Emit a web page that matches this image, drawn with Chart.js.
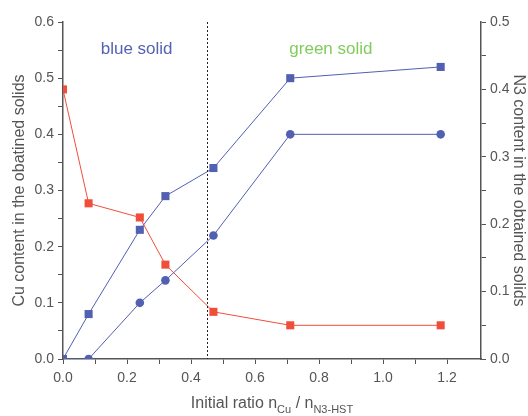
<!DOCTYPE html>
<html>
<head>
<meta charset="utf-8">
<script src="https://cdn.jsdelivr.net/npm/chart.js@4/dist/chart.umd.min.js"></script>
<style>
  html, body { margin: 0; padding: 0; background: #fff; }
  #wrap { width: 528px; height: 416px; }
</style>
</head>
<body>
<div id="wrap"><canvas id="grafico" width="528" height="416"></canvas></div>
<script>
// ratio n_Cu / n_N3-HST
const razoes = [0, 0.08, 0.24, 0.32, 0.47, 0.71, 1.18];
const cuQuadrado = [0, 0.08, 0.23, 0.29, 0.34, 0.50, 0.52];
const cuCirculo = [0, 0, 0.10, 0.14, 0.22, 0.40, 0.40];
const n3Conteudo = [0.40, 0.231, 0.21, 0.14, 0.07, 0.05, 0.05];

const xTicks = [0, 0.1, 0.2, 0.3, 0.4, 0.5, 0.6, 0.7, 0.8, 0.9, 1.0, 1.1, 1.2];
const yTicksCu = [0, 0.05, 0.1, 0.15, 0.2, 0.25, 0.3, 0.35, 0.4, 0.45, 0.5, 0.55, 0.6];
const yTicksN3 = [0, 0.05, 0.1, 0.15, 0.2, 0.25, 0.3, 0.35, 0.4, 0.45, 0.5];
const limiteSolido = 0.45;
const rotulos = [
  { texto: 'blue solid', x: 0.23, y: 0.552, cor: '#5563b3' },
  { texto: 'green solid', x: 0.837, y: 0.552, cor: '#82cc5e' }
];

const AZUL = '#5160b0';
const VERMELHO = '#f04e3b';
const CINZA = '#555555';
const FONTE = "'Liberation Sans', Arial, Helvetica, sans-serif";

const pares = (ys) => razoes.map((x, i) => ({ x, y: ys[i] }));
const soMaiores = (v) => Math.abs(Math.round(v * 10) - v * 10) < 1e-6;

const extras = {
  id: 'extras',
  afterDatasetsDraw(chart) {
    const { ctx, chartArea, scales } = chart;
    ctx.save();
    // linha pontilhada
    const xp = scales.x.getPixelForValue(limiteSolido);
    ctx.strokeStyle = '#222';
    ctx.lineWidth = 1;
    ctx.setLineDash([2, 2]);
    ctx.beginPath();
    ctx.moveTo(Math.round(xp) + 0.5, chartArea.top);
    ctx.lineTo(Math.round(xp) + 0.5, chartArea.bottom);
    ctx.stroke();
    ctx.setLineDash([]);

    ctx.font = '17px ' + FONTE;
    ctx.textAlign = 'center';
    ctx.textBaseline = 'middle';
    rotulos.forEach(r => {
      ctx.fillStyle = r.cor;
      ctx.fillText(r.texto, scales.x.getPixelForValue(r.x), scales.y.getPixelForValue(r.y));
    });

    // titulo do eixo x com subscritos
    const partes = [
      { t: 'Initial ratio n', f: 16, dy: 0 },
      { t: 'Cu', f: 11, dy: 5 },
      { t: ' / n', f: 16, dy: 0 },
      { t: 'N3-HST', f: 11, dy: 5 }
    ];
    ctx.textAlign = 'left';
    ctx.textBaseline = 'alphabetic';
    let total = 0;
    partes.forEach(p => { ctx.font = p.f + 'px ' + FONTE; total += ctx.measureText(p.t).width; });
    let xc = (chartArea.left + chartArea.right) / 2 - total / 2;
    ctx.fillStyle = CINZA;
    partes.forEach(p => {
      ctx.font = p.f + 'px ' + FONTE;
      ctx.fillText(p.t, xc, 408 + p.dy);
      xc += ctx.measureText(p.t).width;
    });
    ctx.restore();
  }
};

const eixoY = (ticks, titulo, pos, largura, padTitulo) => ({
  type: 'linear',
  position: pos,
  min: 0,
  max: ticks[ticks.length - 1],
  afterBuildTicks: (s) => { s.ticks = ticks.map(v => ({ value: v })); },
  afterFit: (s) => { s.width = largura; },
  border: { color: CINZA, width: 1.5 },
  grid: { drawOnChartArea: false, color: CINZA, tickLength: 5, tickWidth: 1 },
  ticks: {
    color: CINZA,
    font: { family: FONTE, size: 14 },
    padding: 4,
    callback: (v) => soMaiores(v) ? v.toFixed(1) : ''
  },
  title: {
    display: true,
    text: titulo,
    color: CINZA,
    font: { family: FONTE, size: 16 },
    padding: padTitulo
  }
});

new Chart(document.getElementById('grafico'), {
  type: 'scatter',
  data: {
    datasets: [
      {
        label: 'Cu (quadrado)',
        data: pares(cuQuadrado),
        yAxisID: 'y',
        showLine: true,
        borderColor: AZUL,
        borderWidth: 1,
        backgroundColor: AZUL,
        pointStyle: 'rect',
        pointRadius: 5.7,
        pointBorderWidth: 0
      },
      {
        label: 'Cu (circulo)',
        data: pares(cuCirculo),
        yAxisID: 'y',
        showLine: true,
        borderColor: AZUL,
        borderWidth: 1,
        backgroundColor: AZUL,
        pointStyle: 'circle',
        pointRadius: 4.3,
        pointBorderWidth: 0
      },
      {
        label: 'N3',
        data: pares(n3Conteudo),
        yAxisID: 'y2',
        showLine: true,
        borderColor: VERMELHO,
        borderWidth: 1,
        backgroundColor: VERMELHO,
        pointStyle: 'rect',
        pointRadius: 5.7,
        pointBorderWidth: 0
      }
    ]
  },
  options: {
    responsive: false,
    animation: false,
    layout: { padding: { top: 22, left: 8, right: 0, bottom: 0 } },
    plugins: { legend: { display: false }, tooltip: { enabled: false } },
    scales: {
      x: {
        type: 'linear',
        min: 0,
        max: 1.306,
        afterBuildTicks: (s) => { s.ticks = xTicks.map(v => ({ value: v })); },
        afterFit: (s) => { s.height = 57; },
        border: { color: CINZA, width: 1.5 },
        grid: { drawOnChartArea: false, color: CINZA, tickLength: 5, tickWidth: 1 },
        ticks: {
          color: CINZA,
          font: { family: FONTE, size: 14 },
          padding: 6,
          maxRotation: 0,
          autoSkip: false,
          callback: (v) => soMaiores(v) && Math.round(v * 10) % 2 === 0 ? v.toFixed(1) : ''
        }
      },
      y: eixoY(yTicksCu, 'Cu content in the obatined solids', 'left', 55, { top: 2, bottom: 0 }),
      y2: eixoY(yTicksN3, 'N3 content in the obtained solids', 'right', 47, { top: 0, bottom: 0 })
    }
  },
  plugins: [extras]
});
</script>
</body>
</html>
